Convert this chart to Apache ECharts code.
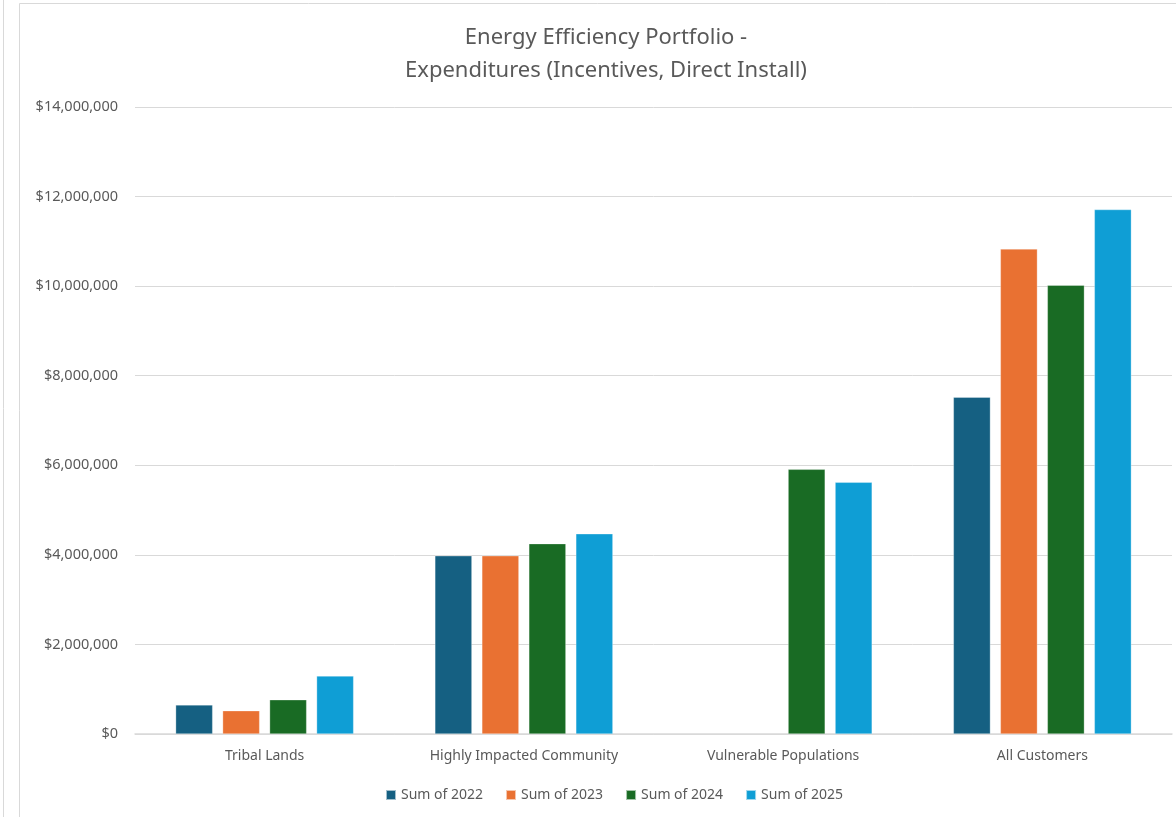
<!DOCTYPE html>
<html>
<head>
<meta charset="utf-8">
<script src="https://cdn.jsdelivr.net/npm/echarts@6/dist/echarts.min.js"></script>
<style>html,body{margin:0;padding:0;background:#fff}#c{width:1176px;height:817px}</style>
</head>
<body>
<div id="c"></div>
<script>
const categories = ['Tribal Lands', 'Highly Impacted Community', 'Vulnerable Populations', 'All Customers'];
const seriesNames = ['Sum of 2022', 'Sum of 2023', 'Sum of 2024', 'Sum of 2025'];
const values2022 = [650000, 3980000, null, 7520000];
const values2023 = [520000, 3980000, null, 10830000];
const values2024 = [765000, 4250000, 5910000, 10020000];
const values2025 = [1295000, 4470000, 5620000, 11710000];
const colors = ['#156082', '#E97132', '#196B24', '#0F9ED5'];
const yTicks = { min: 0, max: 14000000, interval: 2000000 };

const allValues = [values2022, values2023, values2024, values2025];
const font = '"Noto Sans", "Open Sans", sans-serif';
const chart = echarts.init(document.getElementById('c'), null, { renderer: 'canvas' });
chart.setOption({
  animation: false,
  backgroundColor: '#fff',
  title: {
    text: 'Energy Efficiency Portfolio -\nExpenditures (Incentives, Direct Install)',
    left: 601, top: 16, textAlign: 'center',
    textStyle: { fontFamily: font, fontSize: 22, fontWeight: 'normal', color: '#595959', lineHeight: 33 }
  },
  legend: {
    bottom: 10, left: 380,
    itemWidth: 10, itemHeight: 10, itemGap: 22,
    icon: 'rect',
    textStyle: { fontFamily: font, fontSize: 14, color: '#595959' },
    data: seriesNames
  },
  grid: { left: 135, right: 4, top: 107, bottom: 83 },
  xAxis: {
    type: 'category', data: categories,
    axisLine: { lineStyle: { color: '#d9d9d9', width: 1.5 } },
    axisTick: { show: false },
    axisLabel: { fontFamily: font, fontSize: 14, color: '#595959', margin: 15 }
  },
  yAxis: {
    type: 'value', min: yTicks.min, max: yTicks.max, interval: yTicks.interval,
    axisLine: { show: false }, axisTick: { show: false },
    splitLine: { lineStyle: { color: '#d9d9d9', width: 1 } },
    axisLabel: {
      fontFamily: font, fontSize: 14.5, color: '#595959', margin: 17,
      formatter: v => '$' + v.toLocaleString('en-US')
    }
  },
  series: seriesNames.map((n, i) => ({
    name: n, type: 'bar', data: allValues[i],
    barWidth: 37, barGap: '27%',
    itemStyle: { color: colors[i], borderColor: 'rgba(255,255,255,0.6)', borderWidth: 0.5 }
  })),
  graphic: [
    { type: 'line', shape: { x1: 3.5, y1: 0, x2: 3.5, y2: 817 }, style: { stroke: '#d9d9d9', lineWidth: 1 } },
    { type: 'line', shape: { x1: 19.5, y1: 3.5, x2: 19.5, y2: 817 }, style: { stroke: '#d9d9d9', lineWidth: 1 } },
    { type: 'line', shape: { x1: 19.5, y1: 3.5, x2: 1176, y2: 3.5 }, style: { stroke: '#d9d9d9', lineWidth: 1 } }
  ]
});
</script>
</body>
</html>
